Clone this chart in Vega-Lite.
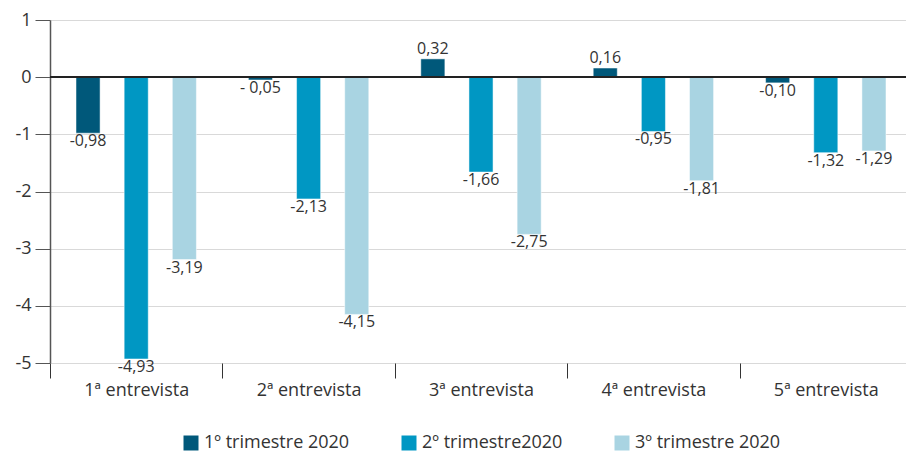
{
  "$schema": "https://vega.github.io/schema/vega-lite/v6.json",
  "autosize": "none",
  "width": 862,
  "height": 343,
  "padding": {"left": 50, "top": 20, "right": 0, "bottom": 91},
  "background": "white",
  "config": {
    "font": "Open Sans",
    "view": {"stroke": null}
  },
  "data": {
    "values": [
      {"entrevista": "1ª entrevista", "trimestre": "1º trimestre 2020", "valor": -0.98, "label": "-0,98"},
      {"entrevista": "1ª entrevista", "trimestre": "2º trimestre2020", "valor": -4.93, "label": "-4,93"},
      {"entrevista": "1ª entrevista", "trimestre": "3º trimestre 2020", "valor": -3.19, "label": "-3,19"},
      {"entrevista": "2ª entrevista", "trimestre": "1º trimestre 2020", "valor": -0.05, "label": "- 0,05"},
      {"entrevista": "2ª entrevista", "trimestre": "2º trimestre2020", "valor": -2.13, "label": "-2,13"},
      {"entrevista": "2ª entrevista", "trimestre": "3º trimestre 2020", "valor": -4.15, "label": "-4,15"},
      {"entrevista": "3ª entrevista", "trimestre": "1º trimestre 2020", "valor": 0.32, "label": "0,32"},
      {"entrevista": "3ª entrevista", "trimestre": "2º trimestre2020", "valor": -1.66, "label": "-1,66"},
      {"entrevista": "3ª entrevista", "trimestre": "3º trimestre 2020", "valor": -2.75, "label": "-2,75"},
      {"entrevista": "4ª entrevista", "trimestre": "1º trimestre 2020", "valor": 0.16, "label": "0,16"},
      {"entrevista": "4ª entrevista", "trimestre": "2º trimestre2020", "valor": -0.95, "label": "-0,95"},
      {"entrevista": "4ª entrevista", "trimestre": "3º trimestre 2020", "valor": -1.81, "label": "-1,81"},
      {"entrevista": "5ª entrevista", "trimestre": "1º trimestre 2020", "valor": -0.10, "label": "-0,10"},
      {"entrevista": "5ª entrevista", "trimestre": "2º trimestre2020", "valor": -1.32, "label": "-1,32"},
      {"entrevista": "5ª entrevista", "trimestre": "3º trimestre 2020", "valor": -1.29, "label": "-1,29"}
    ]
  },
  "encoding": {
    "x": {
      "field": "entrevista",
      "type": "nominal",
      "sort": null,
      "scale": {"paddingInner": 0, "paddingOuter": 0},
      "axis": {
        "title": null,
        "labelAngle": 0,
        "labelFontSize": 18,
        "labelColor": "#333333",
        "labelPadding": 3,
        "tickBand": "extent",
        "tickSize": 15,
        "tickColor": "#333333",
        "tickWidth": 1,
        "domain": false,
        "grid": false
      }
    },
    "xOffset": {
      "field": "trimestre",
      "type": "nominal",
      "sort": null,
      "scale": {"paddingInner": 0.5, "paddingOuter": 0.54}
    },
    "y": {
      "field": "valor",
      "type": "quantitative",
      "scale": {"domain": [-5, 1], "nice": false, "zero": false},
      "axis": {
        "title": null,
        "values": [-5, -4, -3, -2, -1, 0, 1],
        "labelExpr": "'' + datum.value",
        "labelFontSize": 18,
        "labelColor": "#333333",
        "labelPadding": 4,
        "tickSize": 15,
        "tickColor": "#555555",
        "domainColor": "#555555",
        "domainWidth": 1.5,
        "grid": true,
        "gridColor": "#d9d9d9",
        "gridWidth": 1
      }
    }
  },
  "layer": [
    {
      "mark": {"type": "bar", "stroke": "white", "strokeWidth": 0.5},
      "encoding": {
        "color": {
          "field": "trimestre",
          "type": "nominal",
          "sort": null,
          "scale": {
            "domain": ["1º trimestre 2020", "2º trimestre2020", "3º trimestre 2020"],
            "range": ["#00587a", "#0097c3", "#a9d4e2"]
          },
          "legend": {
            "title": null,
            "orient": "none",
            "direction": "horizontal",
            "legendX": 132,
            "legendY": 414,
            "symbolType": "square",
            "symbolSize": 225,
            "symbolStrokeWidth": 0,
            "labelFontSize": 18,
            "labelColor": "#333333",
            "labelOffset": 4,
            "columnPadding": 50,
            "labelLimit": 300
          }
        }
      }
    },
    {
      "mark": {"type": "rule", "color": "#222222", "strokeWidth": 1.5},
      "encoding": {"y": {"datum": 0}, "x": null, "xOffset": null}
    },
    {
      "transform": [{"filter": "datum.valor < 0"}],
      "mark": {"type": "text", "baseline": "top", "dy": 0, "fontSize": 16, "color": "#333333"},
      "encoding": {"text": {"field": "label"}}
    },
    {
      "transform": [{"filter": "datum.valor >= 0"}],
      "mark": {"type": "text", "baseline": "bottom", "dy": -2, "fontSize": 16, "color": "#333333"},
      "encoding": {"text": {"field": "label"}}
    }
  ]
}
